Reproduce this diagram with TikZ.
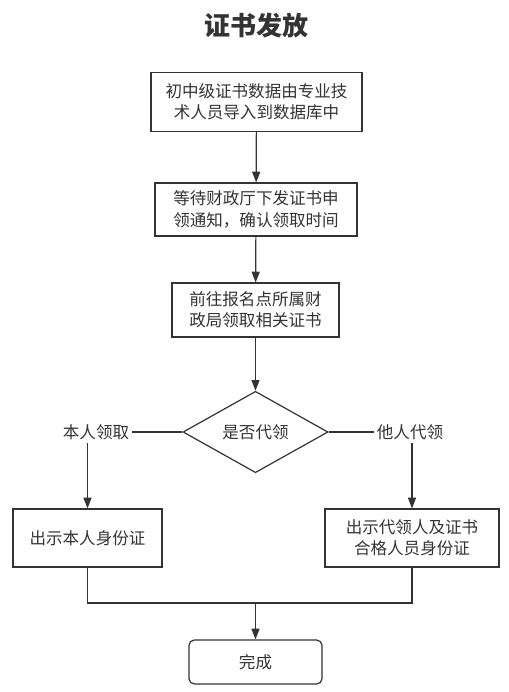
\documentclass[tikz,border=0pt]{standalone}
\usepackage{fontspec}
\setmainfont{Noto Sans CJK SC}
\usetikzlibrary{arrows.meta, shapes.geometric}
\definecolor{cLine}{HTML}{333333}
\definecolor{cText}{HTML}{333333}
\tikzset{
    box/.style   ={draw=cLine, line width=0.9pt, align=center, text=cText,
                   font=\fontsize{12.4pt}{16pt}\selectfont, inner sep=3pt},
    fin/.style   ={box, rounded corners=4pt},
    ask/.style   ={box, diamond, inner sep=0pt},
    lbl/.style   ={text=cText, font=\fontsize{12.4pt}{16pt}\selectfont, inner sep=2pt},
    flow/.style  ={-{Triangle[length=8pt, width=6pt]}, line width=0.9pt, cLine},
    seg/.style   ={line width=0.9pt, cLine},
}

\begin{document}
\begin{tikzpicture}[x=0.75pt, y=-0.75pt]
\useasboundingbox (0,0) rectangle (509,692);

% ===================== Titulo =====================
\node[text=cText, font=\fontsize{19.5pt}{22pt}\selectfont\bfseries] (title) at (256,26) {证书发放};

% ===================== Columna central =====================
\node[box, minimum width=158.25pt, minimum height=44.25pt] (imp) at (256.5,102)
     {初中级证书数据由专业技\\术人员导入到数据库中};
\node[box, minimum width=151.5pt, minimum height=39.75pt] (wait) at (256,209.5)
     {等待财政厅下发证书申\\领通知，确认领取时间};
\node[box, minimum width=125.25pt, minimum height=40.5pt] (go) at (255.5,310)
     {前往报名点所属财\\政局领取相关证书};
\node[ask, minimum width=108.75pt, minimum height=51.75pt] (who) at (255.5,432) {是否代领};

% ===================== Dos ramas =====================
\node[lbl] (self) at (96,432) {本人领取};
\node[lbl] (other) at (410,432) {他人代领};
\node[box, minimum width=111.75pt, minimum height=43.5pt] (own) at (87.5,538) {出示本人身份证};
\node[box, minimum width=130.5pt, minimum height=43.5pt] (proxy) at (412,538)
     {出示代领人及证书\\合格人员身份证};
\node[fin, minimum width=99.75pt, minimum height=33pt] (done) at (255.5,662) {完成};
\coordinate (join) at (255.5,603);

% ===================== Conexiones =====================
\draw[flow] (imp) -- (wait);
\draw[flow] (wait) -- (go);
\draw[flow] (go) -- (who);
\draw[seg] (who.west) -- (self.east);
\draw[seg] (who.east) -- (other.west);
\draw[flow] (self.south -| own.north) -- (own.north);
\draw[flow] (other.south -| proxy.north) -- (proxy.north);
\draw[seg] (own.south) |- (join) -| (proxy.south);
\draw[flow] (join) -- (done);

\end{tikzpicture}
\end{document}
